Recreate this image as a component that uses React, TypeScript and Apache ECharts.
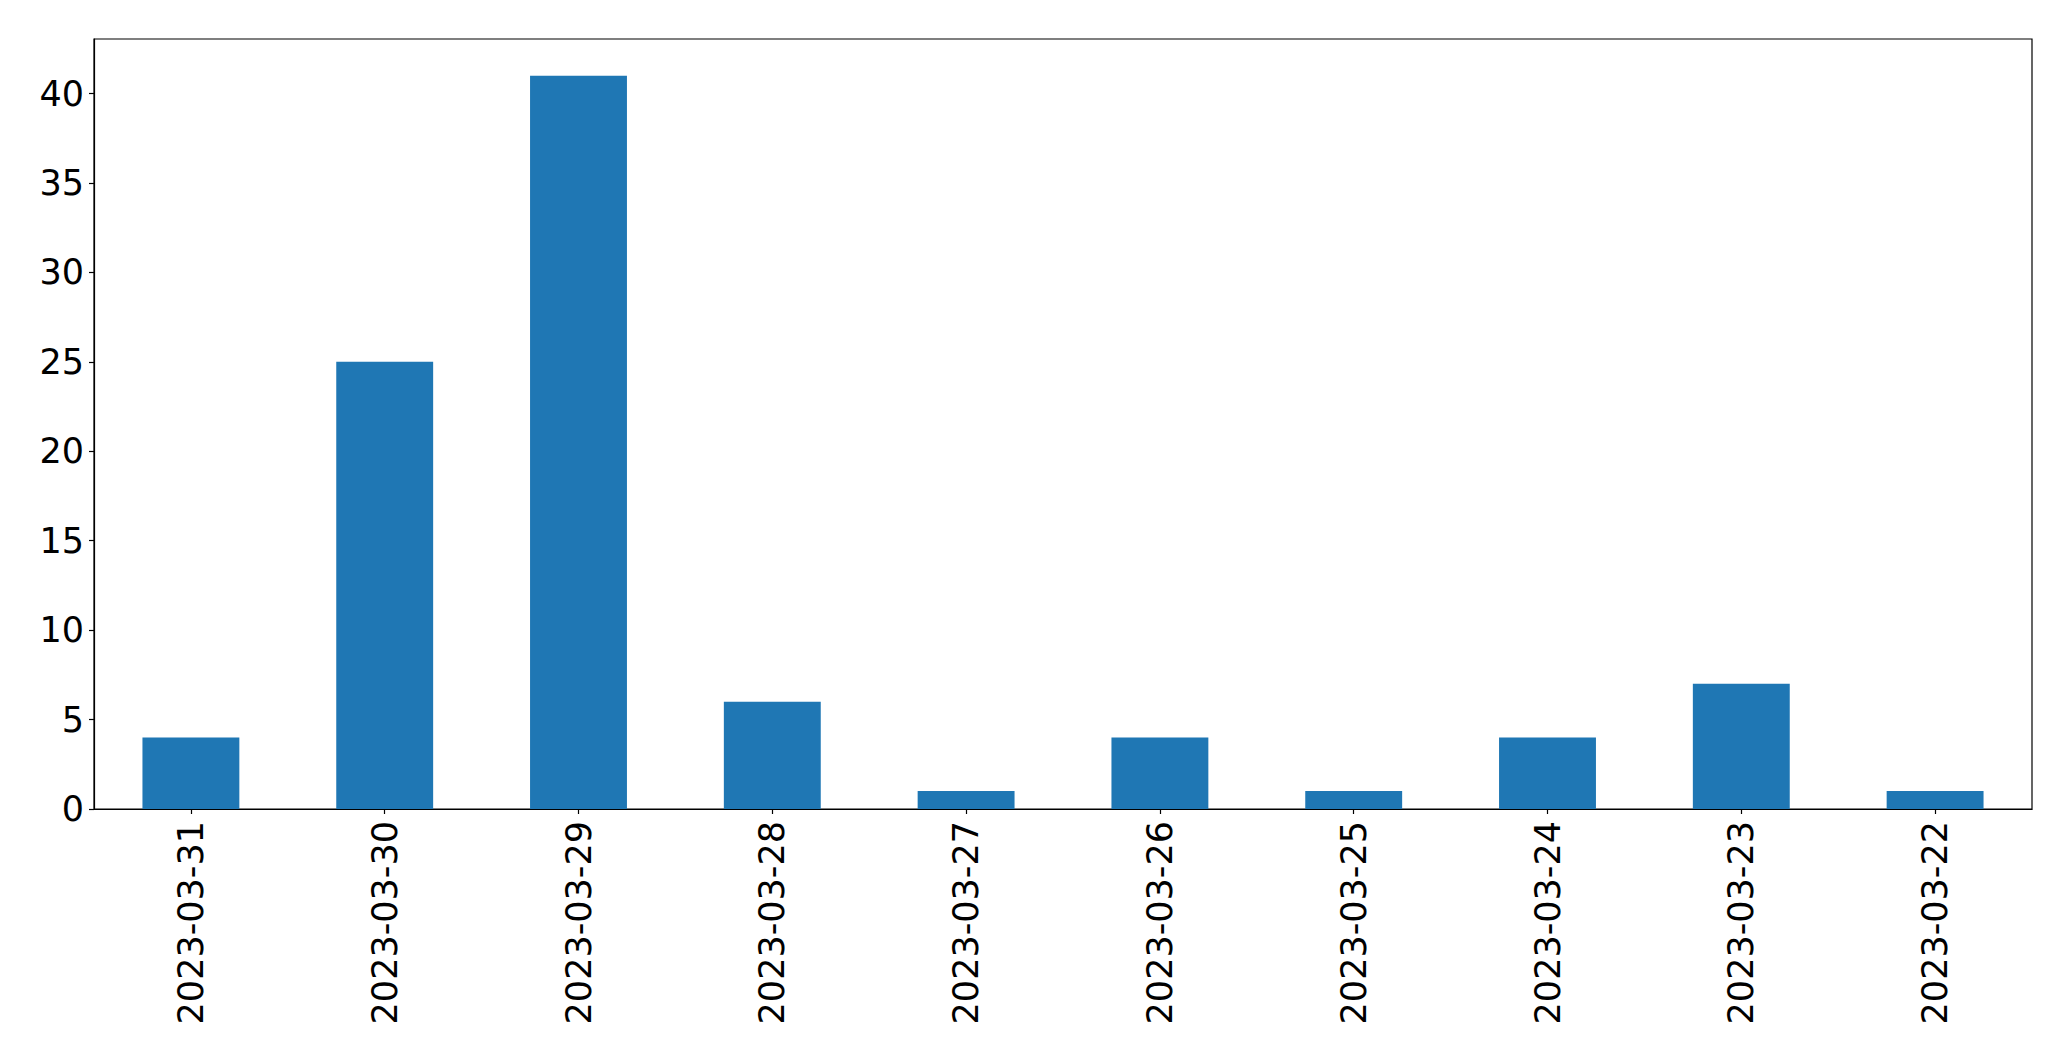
import React, { useEffect, useRef } from "react";
import * as echarts from "echarts";

const categories = [
  "2023-03-31",
  "2023-03-30",
  "2023-03-29",
  "2023-03-28",
  "2023-03-27",
  "2023-03-26",
  "2023-03-25",
  "2023-03-24",
  "2023-03-23",
  "2023-03-22",
];
const values = [4, 25, 41, 6, 1, 4, 1, 4, 7, 1];
const yTicks = [0, 5, 10, 15, 20, 25, 30, 35, 40];

export default function App() {
  const ref = useRef<HTMLDivElement>(null);
  useEffect(() => {
    document.body.style.margin = "0";
    const chart = echarts.init(ref.current!, null, { renderer: "svg" });
    const font = "DejaVu Sans";
    chart.setOption({
      animation: false,
      backgroundColor: "#ffffff",
      grid: {
        left: 94,
        top: 39,
        right: 39,
        bottom: 252,
        show: true,
        borderColor: "#000000",
        borderWidth: 1.2,
        containLabel: false,
      },
      xAxis: {
        type: "category",
        data: categories,
        boundaryGap: true,
        axisLine: { show: true, lineStyle: { color: "#000", width: 1.2 } },
        axisTick: {
          show: true,
          alignWithLabel: true,
          length: 5,
          lineStyle: { color: "#000", width: 1.2 },
        },
        axisLabel: {
          rotate: 90,
          interval: 0,
          margin: 12,
          color: "#000",
          fontFamily: font,
          fontSize: 35,
        },
        splitLine: { show: false },
      },
      yAxis: {
        type: "value",
        min: 0,
        max: 43.05,
        interval: 5,
        axisLine: { show: true, lineStyle: { color: "#000", width: 1.2 } },
        axisTick: { show: true, length: 5, lineStyle: { color: "#000", width: 1.2 } },
        axisLabel: {
          margin: 10,
          color: "#000",
          fontFamily: font,
          fontSize: 35,
          showMaxLabel: false,
          formatter: (v: number) => (yTicks.includes(v) ? String(v) : ""),
        },
        splitLine: { show: false },
      },
      series: [
        {
          type: "bar",
          data: values,
          barWidth: "50%",
          itemStyle: { color: "#1f77b4" },
        },
      ],
    });
    return () => chart.dispose();
  }, []);
  return <div ref={ref} style={{ width: 2071, height: 1061 }} />;
}
